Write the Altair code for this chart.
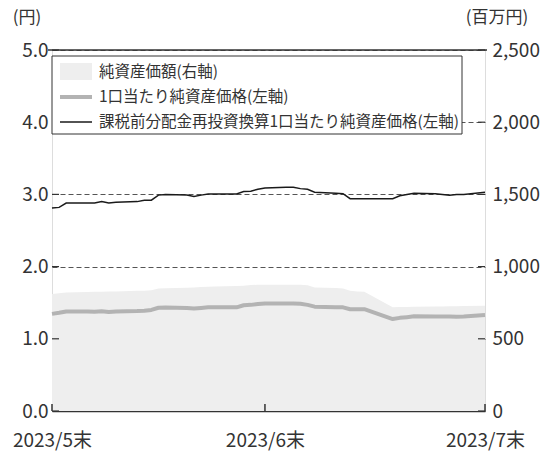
import altair as alt
import pandas as pd

# ---------------- data ----------------
dates = [
    "2023/05/31",
    "2023/06/01", "2023/06/02", "2023/06/05", "2023/06/06", "2023/06/07", "2023/06/08", "2023/06/09",
    "2023/06/12", "2023/06/13", "2023/06/14", "2023/06/15", "2023/06/16", "2023/06/19", "2023/06/20",
    "2023/06/21", "2023/06/22", "2023/06/23", "2023/06/26", "2023/06/27", "2023/06/28", "2023/06/29",
    "2023/06/30",
    "2023/07/03", "2023/07/04", "2023/07/05", "2023/07/06", "2023/07/07", "2023/07/10", "2023/07/11",
    "2023/07/12", "2023/07/13", "2023/07/14", "2023/07/18", "2023/07/19", "2023/07/20", "2023/07/21",
    "2023/07/24", "2023/07/25", "2023/07/26", "2023/07/27", "2023/07/28", "2023/07/31",
]
nav_reinvested = [
    2.81,
    2.82, 2.88, 2.88, 2.88, 2.90, 2.88, 2.89,
    2.90, 2.92, 2.92, 2.99, 3.00, 2.99, 2.97,
    2.99, 3.005, 3.005, 3.005, 3.04, 3.045, 3.07,
    3.09,
    3.10, 3.10, 3.08, 3.07, 3.03, 3.015, 3.01,
    2.94, 2.94, 2.94, 2.94, 2.98, 3.00, 3.015,
    3.01, 3.00, 2.99, 3.00, 3.00, 3.03,
]
nav = [
    1.345,
    1.36, 1.378, 1.378, 1.375, 1.38, 1.372, 1.378,
    1.385, 1.39, 1.40, 1.43, 1.432, 1.428, 1.42,
    1.428, 1.436, 1.436, 1.436, 1.465, 1.47, 1.482,
    1.49,
    1.49, 1.488, 1.484, 1.47, 1.445, 1.438, 1.436,
    1.41, 1.41, 1.41, 1.274, 1.29, 1.30, 1.312,
    1.31, 1.308, 1.31, 1.306, 1.31, 1.33,
]
net_assets = [
    810,
    815, 820, 824, 826, 826, 827, 828,
    832, 833, 836, 848, 850, 853, 856,
    858, 860, 862, 865, 868, 872, 874,
    875,
    875, 875, 874, 870, 855, 852, 848,
    832, 828, 826, 718, 720, 721, 722,
    723, 724, 725, 726, 727, 729,
]
series_names = [
    "純資産価額(右軸)",
    "1口当たり純資産価格(左軸)",
    "課税前分配金再投資換算1口当たり純資産価格(左軸)",
]
left_ticks = [0, 1, 2, 3, 4, 5]
right_ticks = [0, 500, 1000, 1500, 2000, 2500]
x_ticks = ["2023/05/31", "2023/06/30", "2023/07/31"]
left_unit = "(円)"
right_unit = "(百万円)"

df = pd.DataFrame({"date": dates, "nav": nav, "re": nav_reinvested, "assets": net_assets})

# ---------------- style ----------------
W, H = 433, 361
FONT = "Noto Sans CJK JP"
TXT = "#333333"
AREA_C = "#eeeeee"
GRAY_C = "#b3b3b3"
BLACK_C = "#1a1a1a"
LBL = 19

xscale = alt.Scale(
    domain=[alt.DateTime(year=2023, month=5, date=31), alt.DateTime(year=2023, month=7, date=31)],
    nice=False,
)
lscale = alt.Scale(domain=[left_ticks[0], left_ticks[-1]], nice=False, zero=True)
rscale = alt.Scale(domain=[right_ticks[0], right_ticks[-1]], nice=False, zero=True)

x_axis = alt.Axis(
    values=[alt.DateTime(year=2023, month=5, date=31), alt.DateTime(year=2023, month=6, date=30),
            alt.DateTime(year=2023, month=7, date=31)],
    labelExpr="timeFormat(datum.value, '%Y') + '/' + (month(datum.value) + 1) + '末'",
    title=None, grid=False, ticks=False, domain=True, domainColor=TXT, domainWidth=1.5,
    labelFont=FONT, labelFontSize=LBL, labelColor=TXT, labelPadding=20, labelFlush=False,
    labelOverlap=False,
)

left_axis = alt.Axis(
    orient="left", values=left_ticks, format=".1f", grid=True, gridDash=[5, 3], gridColor="#555555",
    gridWidth=1, ticks=False, domain=False, labelFont=FONT, labelFontSize=LBL, labelColor=TXT,
    labelPadding=4, title=None,
)
right_axis = alt.Axis(
    orient="right", values=right_ticks, format=",.0f", grid=False, ticks=False, domain=False,
    labelFont=FONT, labelFontSize=LBL, labelColor=TXT, labelPadding=7, title=None,
)

base = alt.Chart(df)

area = base.mark_area(color=AREA_C, opacity=1).encode(
    x=alt.X("date:T", scale=xscale, axis=x_axis),
    y=alt.Y("assets:Q", scale=rscale, axis=right_axis),
)

gray_line = base.mark_line(color=GRAY_C, strokeWidth=4, strokeJoin="round").encode(
    x=alt.X("date:T", scale=xscale),
    y=alt.Y("nav:Q", scale=lscale, axis=left_axis),
)
black_line = base.mark_line(color=BLACK_C, strokeWidth=1.5).encode(
    x=alt.X("date:T", scale=xscale),
    y=alt.Y("re:Q", scale=lscale, axis=None),
)

# top frame line at the maximum of the left axis
top_line = alt.Chart(pd.DataFrame({"v": [left_ticks[-1]]})).mark_rule(color=TXT, strokeWidth=1.5).encode(
    y=alt.Y("v:Q", scale=lscale, axis=None), x=alt.value(-4), x2=alt.value(W + 2)
)

# inward ticks
lt = alt.Chart(pd.DataFrame({"v": left_ticks})).mark_rule(color=TXT, strokeWidth=1.2).encode(
    y=alt.Y("v:Q", scale=lscale, axis=None), x=alt.value(0), x2=alt.value(7)
)
rt = alt.Chart(pd.DataFrame({"v": right_ticks})).mark_rule(color=TXT, strokeWidth=1.2).encode(
    y=alt.Y("v:Q", scale=rscale, axis=None), x=alt.value(W - 7), x2=alt.value(W)
)
xt = alt.Chart(pd.DataFrame({"d": x_ticks})).mark_rule(color=TXT, strokeWidth=1.5).encode(
    x=alt.X("d:T", scale=xscale), y=alt.value(H - 7), y2=alt.value(H)
)

one = pd.DataFrame({"a": [0]})

# unit titles
unit_l = alt.Chart(one).mark_text(align="center", baseline="middle", font=FONT, fontSize=17, color=TXT).encode(
    x=alt.value(-25), y=alt.value(-32), text=alt.value(left_unit)
)
unit_r = alt.Chart(one).mark_text(align="center", baseline="middle", font=FONT, fontSize=17, color=TXT).encode(
    x=alt.value(W + 12), y=alt.value(-32), text=alt.value(right_unit)
)

# legend (manual)
leg_box = alt.Chart(one).mark_rect(fill="white", stroke=TXT, strokeWidth=1).encode(
    x=alt.value(0), x2=alt.value(410), y=alt.value(6), y2=alt.value(84)
)
sw_area = alt.Chart(one).mark_rect(fill=AREA_C).encode(
    x=alt.value(8), x2=alt.value(40), y=alt.value(13), y2=alt.value(30)
)
sw_gray = alt.Chart(one).mark_rule(color=GRAY_C, strokeWidth=4).encode(
    x=alt.value(8), x2=alt.value(40), y=alt.value(47)
)
sw_black = alt.Chart(one).mark_rule(color=BLACK_C, strokeWidth=1.5).encode(
    x=alt.value(8), x2=alt.value(40), y=alt.value(72)
)
leg_texts = [
    alt.Chart(one).mark_text(align="left", baseline="middle", font=FONT, fontSize=15.5, color=TXT).encode(
        x=alt.value(47), y=alt.value(yy), text=alt.value(name)
    )
    for name, yy in zip(series_names, [22, 47, 72])
]

chart = alt.layer(
    area, gray_line, black_line, top_line, lt, rt, xt, unit_l, unit_r,
    leg_box, sw_area, sw_gray, sw_black, *leg_texts
).resolve_scale(y="independent").properties(
    width=W, height=H,
    autosize=alt.AutoSizeParams(type="none"),
    padding={"left": 52, "top": 50, "right": 60, "bottom": 43},
).configure_view(stroke=None).configure(background="white")

chart.save("out.html", embed_options={"renderer": "svg", "actions": False})
